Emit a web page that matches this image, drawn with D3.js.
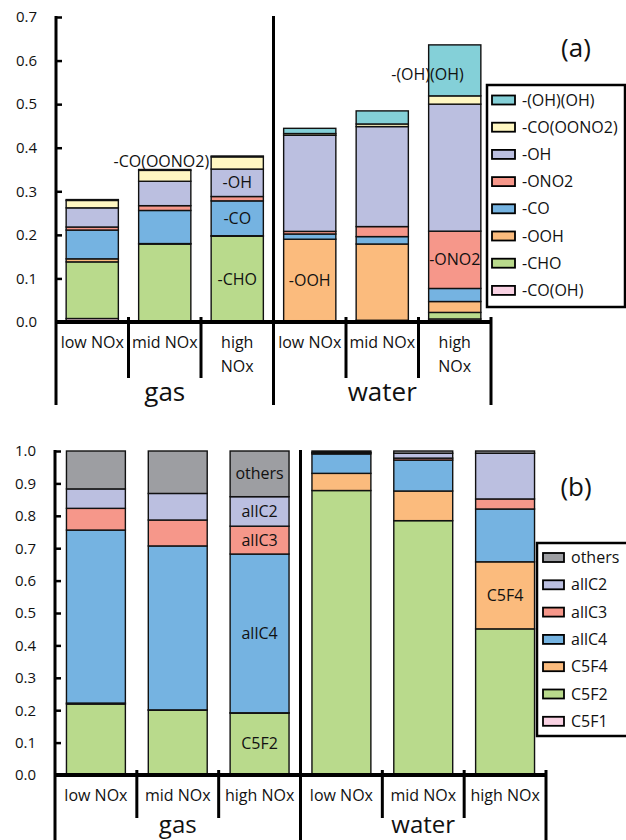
<!DOCTYPE html>
<html>
<head>
<meta charset="utf-8">
<script src="https://cdn.jsdelivr.net/npm/d3@7"></script>
<style>
  html, body { margin: 0; padding: 0; background: #fff; }
  svg { display: block; font-family: "Open Sans", "Noto Sans", sans-serif; }
</style>
</head>
<body>
<svg id="chart" width="626" height="840"></svg>
<script>
// ---- data ----
const phases = ["gas", "water"];
const noxLevels = ["low NOx", "mid NOx", "high NOx"];

// panel (a): functional-group contributions, stacked bottom to top
const groupsA = ["-CO(OH)", "-CHO", "-OOH", "-CO", "-ONO2", "-OH", "-CO(OONO2)", "-(OH)(OH)"];
const colorsA = ["#f9d2e3", "#b9da8c", "#fbbb7d", "#75b3e1", "#f6978a", "#bbbfe0", "#fff7c2", "#84d0d8"];
// order of each list: gas low, gas mid, gas high, water low, water mid, water high
const valCOOH   = [0.008, 0.001, 0.000, 0.002, 0.001, 0.007];
const valCHO    = [0.130, 0.178, 0.197, 0.001, 0.003, 0.015];
const valOOH    = [0.007, 0.001, 0.001, 0.187, 0.175, 0.025];
const valCO     = [0.066, 0.076, 0.080, 0.012, 0.017, 0.030];
const valONO2   = [0.007, 0.011, 0.010, 0.006, 0.023, 0.1315];
const valOH     = [0.044, 0.056, 0.063, 0.2205, 0.2295, 0.2915];
const valCOONO2 = [0.017, 0.025, 0.028, 0.004, 0.006, 0.019];
const valOHOH   = [0.002, 0.002, 0.002, 0.012, 0.030, 0.117];
const ticksA = [0, 0.1, 0.2, 0.3, 0.4, 0.5, 0.6, 0.7];

// panel (b): fractions by product class, stacked bottom to top
const groupsB = ["C5F1", "C5F2", "C5F4", "allC4", "allC3", "allC2", "others"];
const colorsB = ["#f9d2e3", "#b9da8c", "#fbbb7d", "#75b3e1", "#f6978a", "#bbbfe0", "#9d9ea2"];
const valC5F1   = [0.004, 0.001, 0.001, 0.001, 0.001, 0.001];
const valC5F2   = [0.215, 0.199, 0.190, 0.877, 0.784, 0.450];
const valC5F4   = [0.003, 0.001, 0.001, 0.053, 0.0915, 0.207];
const valAllC4  = [0.534, 0.506, 0.490, 0.060, 0.0955, 0.163];
const valAllC3  = [0.067, 0.080, 0.086, 0.003, 0.006, 0.031];
const valAllC2  = [0.060, 0.082, 0.091, 0.002, 0.015, 0.141];
const valOthers = [0.117, 0.131, 0.141, 0.004, 0.007, 0.007];
const ticksB = [0, 0.1, 0.2, 0.3, 0.4, 0.5, 0.6, 0.7, 0.8, 0.9, 1.0];

// in-bar labels: [bar index, group]
const labelsA = [[2, "-OH"], [2, "-CO"], [2, "-CHO"], [3, "-OOH"], [5, "-ONO2"]];
const labelsB = [[2, "others"], [2, "allC2"], [2, "allC3"], [2, "allC4"], [2, "C5F2"], [5, "C5F4"]];

// ---- helpers ----
const bars = [];
phases.forEach(p => noxLevels.forEach(n => bars.push(p + "|" + n)));

function buildRows(groups, lists) {
  return bars.map((b, i) => {
    const row = { key: b };
    groups.forEach((g, j) => row[g] = lists[j][i]);
    return row;
  });
}
const rowsA = buildRows(groupsA, [valCOOH, valCHO, valOOH, valCO, valONO2, valOH, valCOONO2, valOHOH]);
const rowsB = buildRows(groupsB, [valC5F1, valC5F2, valC5F4, valAllC4, valAllC3, valAllC2, valOthers]);

const svg = d3.select("#chart");
svg.append("rect").attr("width", 626).attr("height", 840).attr("fill", "#fff");

function drawPanel(cfg) {
  const g = svg.append("g");
  const x = d3.scaleBand().domain(bars).range([cfg.x0, cfg.x1]).paddingInner(cfg.pad).paddingOuter(cfg.pad / 2);
  const y = d3.scaleLinear().domain(cfg.domain).range([cfg.yBase, cfg.yTop]);
  const color = d3.scaleOrdinal().domain(cfg.groups).range(cfg.colors);
  const series = d3.stack().keys(cfg.groups)(cfg.rows);
  const step = x.step();
  const edge = i => cfg.x0 + i * step;

  // stacked segments
  g.append("g").selectAll("g").data(series).join("g")
    .attr("fill", d => color(d.key))
    .selectAll("rect").data(d => d).join("rect")
    .attr("x", d => x(d.data.key))
    .attr("width", x.bandwidth())
    .attr("y", d => y(d[1]))
    .attr("height", d => Math.max(0, y(d[0]) - y(d[1])))
    .attr("stroke", "#111").attr("stroke-width", 1.4);

  // in-bar labels
  const segOf = (bi, grp) => series.find(s => s.key === grp)[bi];
  cfg.labels.forEach(([bi, grp]) => {
    const s = segOf(bi, grp);
    g.append("text")
      .attr("x", x(bars[bi]) + x.bandwidth() / 2)
      .attr("y", y((s[0] + s[1]) / 2))
      .attr("dy", "0.35em").attr("text-anchor", "middle")
      .attr("font-size", 16).attr("fill", "#111").text(grp);
  });

  // y axis, ticks pointing inward
  const axis = d3.axisLeft(y).tickValues(cfg.ticks).tickFormat(d3.format(".1f"))
    .tickSizeInner(-6).tickSizeOuter(0).tickPadding(19);
  const ag = g.append("g").attr("transform", `translate(${cfg.x0},0)`).call(axis);
  ag.select(".domain").remove();
  ag.selectAll(".tick line").attr("stroke", "#000").attr("stroke-width", 2.5);
  ag.selectAll(".tick text").attr("font-size", 15).attr("fill", "#111")
    .attr("font-family", "\"Open Sans\", sans-serif");

  const line = (x1, y1, x2, y2, w) => g.append("line")
    .attr("x1", x1).attr("y1", y1).attr("x2", x2).attr("y2", y2)
    .attr("stroke", "#000").attr("stroke-width", w);

  // y axis line extended down through the label area
  line(cfg.x0, cfg.yTop - 1, cfg.x0, cfg.yLong, 3);
  // baseline
  line(cfg.x0 - 1, cfg.yBase, cfg.x1 + 1, cfg.yBase, 4);
  // separators between conditions and phases
  for (let i = 1; i <= 6; i++) {
    const xi = edge(i);
    if (i === 3) line(xi, cfg.yTop - 1, xi, cfg.yLong, 3);
    else if (i === 6) line(xi, cfg.yBase - 5, xi, cfg.yLong, 3);
    else line(xi, cfg.yBase - 5, xi, cfg.yShort, 3);
  }

  // condition labels
  bars.forEach((b, i) => {
    const n = b.split("|")[1];
    const cx = edge(i) + step / 2;
    const t = g.append("text").attr("x", cx).attr("y", cfg.yCat)
      .attr("text-anchor", "middle").attr("font-size", 16).attr("fill", "#111");
    if (cfg.wrapHigh && n === "high NOx") {
      t.append("tspan").attr("x", cx).text("high");
      t.append("tspan").attr("x", cx).attr("dy", 24).text("NOx");
    } else t.text(n);
  });
  // phase labels
  phases.forEach((p, i) => {
    g.append("text").attr("x", edge(i * 3) + step * 1.5).attr("y", cfg.yPhase)
      .attr("text-anchor", "middle").attr("font-size", cfg.phaseSize).attr("fill", "#111").text(p);
  });

  // panel tag
  g.append("text").attr("x", 576).attr("y", cfg.tagY).attr("text-anchor", "middle")
    .attr("font-size", 26).attr("fill", "#111").text(cfg.tag);

  // legend (top entry = top of stack)
  const lg = g.append("g");
  lg.append("rect").attr("x", cfg.leg.x).attr("y", cfg.leg.y)
    .attr("width", cfg.leg.w).attr("height", cfg.leg.h)
    .attr("fill", "#fff").attr("stroke", "#000").attr("stroke-width", 2.5);
  cfg.groups.slice().reverse().forEach((grp, i) => {
    const cy = cfg.leg.first + i * cfg.leg.gap;
    lg.append("rect").attr("x", cfg.leg.sx).attr("y", cy - 4.5)
      .attr("width", cfg.leg.sw).attr("height", 9)
      .attr("fill", color(grp)).attr("stroke", "#000").attr("stroke-width", 1.8);
    lg.append("text").attr("x", cfg.leg.sx + cfg.leg.sw + 7).attr("y", cy)
      .attr("dy", "0.35em").attr("font-size", 16).attr("fill", "#111").text(grp);
  });

  return { x, y, series, g };
}

// panel (a)
const pa = drawPanel({
  rows: rowsA, groups: groupsA, colors: colorsA, ticks: ticksA, domain: [0, 0.7],
  x0: 56, x1: 491, pad: 0.28, yBase: 322, yTop: 17, yShort: 378, yLong: 405,
  yCat: 348, yPhase: 401, phaseSize: 26, wrapHigh: true, tag: "(a)", tagY: 57,
  labels: labelsA,
  leg: { x: 487, y: 85, w: 138, h: 222, first: 100, gap: 27.2, sx: 492, sw: 23 }
});
// labels set beside their segments
{
  const { x, y, series, g } = pa;
  const sY = series.find(s => s.key === "-CO(OONO2)")[2];
  g.append("text").attr("x", x(bars[2]) - 2).attr("y", y((sY[0] + sY[1]) / 2) - 2)
    .attr("dy", "0.35em").attr("text-anchor", "end").attr("font-size", 16).attr("fill", "#111")
    .text("-CO(OONO2)");
  const sW = series.find(s => s.key === "-(OH)(OH)")[5];
  g.append("text").attr("x", x(bars[5]) + x.bandwidth() / 2 + 9).attr("y", y((sW[0] + sW[1]) / 2) + 4)
    .attr("dy", "0.35em").attr("text-anchor", "end").attr("font-size", 16).attr("fill", "#111")
    .text("-(OH)(OH)");
}

// panel (b)
drawPanel({
  rows: rowsB, groups: groupsB, colors: colorsB, ticks: ticksB, domain: [0, 1],
  x0: 55, x1: 546, pad: 0.28, yBase: 775, yTop: 451, yShort: 818, yLong: 842,
  yCat: 801, yPhase: 832.5, phaseSize: 24, wrapHigh: false, tag: "(b)", tagY: 496,
  labels: labelsB,
  leg: { x: 537, y: 543, w: 100, h: 193, first: 557.5, gap: 27.3, sx: 543, sw: 21 }
});
</script>
</body>
</html>
